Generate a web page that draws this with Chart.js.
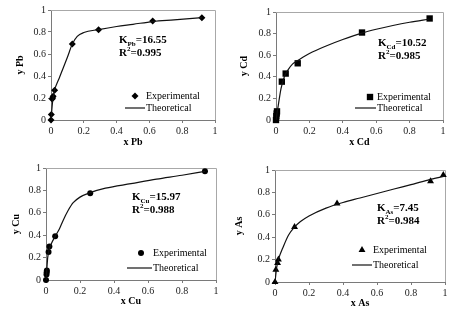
<!DOCTYPE html>
<html>
<head>
<meta charset="utf-8">
<script src="https://cdn.jsdelivr.net/npm/chart.js@4.4.1/dist/chart.umd.min.js"></script>
<style>
  html, body { margin: 0; padding: 0; background: #fff; }
  #wrap { position: relative; width: 458px; height: 321px; overflow: hidden; }
  .panel { position: absolute; }
  .panel canvas { position: absolute; left: 0; top: 0; }
  .note {
    position: absolute; white-space: nowrap; color: #000;
    font: bold 11px "Liberation Serif", "Times New Roman", serif; line-height: 12.5px;
  }
  .note sub, .note sup { font-size: 7px; line-height: 0; }
</style>
</head>
<body>
<div id="wrap">
  <div class="panel" style="left:0;top:0;width:229px;height:160px">
    <canvas id="chart-pb" width="229" height="160"></canvas>
    <div class="note" style="left:119px;top:33px">K<sub>Pb</sub>=16.55<br>R<sup>2</sup>=0.995</div>
  </div>
  <div class="panel" style="left:229px;top:0;width:229px;height:160px">
    <canvas id="chart-cd" width="229" height="160"></canvas>
    <div class="note" style="left:149px;top:36px">K<sub>Cd</sub>=10.52<br>R<sup>2</sup>=0.985</div>
  </div>
  <div class="panel" style="left:0;top:160px;width:229px;height:161px">
    <canvas id="chart-cu" width="229" height="161"></canvas>
    <div class="note" style="left:132px;top:30px">K<sub>Cu</sub>=15.97<br>R<sup>2</sup>=0.988</div>
  </div>
  <div class="panel" style="left:229px;top:160px;width:229px;height:161px">
    <canvas id="chart-as" width="229" height="161"></canvas>
    <div class="note" style="left:148px;top:41px">K<sub>As</sub>=7.45<br>R<sup>2</sup>=0.984</div>
  </div>
</div>
<script>
// shared axis ticks
const tickValues = [0, 0.2, 0.4, 0.6, 0.8, 1];
const tickLabels = ['0', '0.2', '0.4', '0.6', '0.8', '1'];
const legendLabels = ['Experimental', 'Theoretical'];

// Pb
const pbExpX = [0, 0.002, 0.007, 0.01, 0.013, 0.022, 0.13, 0.29, 0.62, 0.92];
const pbExpY = [0, 0.05, 0.19, 0.2, 0.215, 0.27, 0.69, 0.82, 0.9, 0.93];
const pbFitX = [0, 0.01, 0.02, 0.05, 0.1, 0.13, 0.16, 0.2, 0.29, 0.4, 0.5, 0.62, 0.75, 0.92];
const pbFitY = [0, 0.17, 0.26, 0.38, 0.57, 0.69, 0.76, 0.795, 0.822, 0.85, 0.87, 0.895, 0.91, 0.93];

// Cd
const cdExpX = [0, 0.002, 0.004, 0.006, 0.035, 0.058, 0.13, 0.515, 0.92];
const cdExpY = [0, 0.035, 0.06, 0.08, 0.355, 0.43, 0.525, 0.81, 0.94];
const cdFitX = [0, 0.01, 0.02, 0.03, 0.05, 0.07, 0.1, 0.13, 0.2, 0.3, 0.4, 0.515, 0.6, 0.7, 0.8, 0.92];
const cdFitY = [0, 0.1, 0.2, 0.29, 0.4, 0.46, 0.52, 0.55, 0.615, 0.685, 0.745, 0.805, 0.84, 0.875, 0.905, 0.935];

// Cu
const cuExpX = [0, 0.003, 0.004, 0.005, 0.015, 0.02, 0.054, 0.26, 0.935];
const cuExpY = [0, 0.05, 0.07, 0.085, 0.25, 0.3, 0.39, 0.775, 0.97];
const cuFitX = [0, 0.005, 0.01, 0.02, 0.03, 0.054, 0.08, 0.1, 0.13, 0.16, 0.2, 0.26, 0.35, 0.5, 0.65, 0.8, 0.935];
const cuFitY = [0, 0.1, 0.2, 0.28, 0.32, 0.39, 0.46, 0.53, 0.62, 0.69, 0.74, 0.78, 0.82, 0.86, 0.9, 0.935, 0.97];

// As
const asExpX = [0, 0.005, 0.015, 0.02, 0.115, 0.365, 0.915, 0.99];
const asExpY = [0, 0.11, 0.17, 0.2, 0.49, 0.7, 0.9, 0.955];
const asFitX = [0, 0.01, 0.02, 0.05, 0.08, 0.115, 0.15, 0.2, 0.3, 0.4, 0.5, 0.6, 0.7, 0.8, 0.9, 1];
const asFitY = [0, 0.13, 0.2, 0.32, 0.42, 0.49, 0.54, 0.59, 0.66, 0.71, 0.75, 0.79, 0.83, 0.87, 0.91, 0.945];

const SERIF = '"Liberation Serif", "Times New Roman", serif';
const AXIS_GREY = '#7a7a7a';
const LINE_COLOR = '#111';

const zip = (xs, ys) => xs.map((x, i) => ({ x, y: ys[i] }));

// light grey top/right edges of the plot box
const framePlugin = {
  id: 'frame',
  beforeDatasetsDraw(chart) {
    const { ctx, chartArea: a } = chart;
    ctx.save();
    ctx.strokeStyle = '#a8a8a8';
    ctx.lineWidth = 1;
    ctx.beginPath();
    ctx.moveTo(a.left, Math.round(a.top) + 0.5);
    ctx.lineTo(Math.round(a.right) + 0.5, Math.round(a.top) + 0.5);
    ctx.lineTo(Math.round(a.right) + 0.5, a.bottom);
    ctx.stroke();
    ctx.restore();
  },
};

// legend drawn inside the plot, styled from the datasets
const legendPlugin = {
  id: 'isoLegend',
  afterDraw(chart, args, opts) {
    const { ctx } = chart;
    const [line, pts] = chart.data.datasets;
    ctx.save();
    ctx.font = '10px ' + SERIF;
    ctx.fillStyle = '#000';
    ctx.textBaseline = 'middle';
    ctx.fillText(pts.label, opts.textX, opts.markY);
    ctx.fillText(line.label, opts.textX, opts.lineY);

    ctx.fillStyle = pts.backgroundColor;
    ctx.strokeStyle = pts.borderColor;
    Chart.helpers.drawPoint(ctx, { pointStyle: pts.pointStyle, radius: pts.pointRadius, borderWidth: 0, rotation: 0 },
      opts.markX, opts.markY);

    ctx.strokeStyle = line.borderColor;
    ctx.lineWidth = line.borderWidth;
    ctx.beginPath();
    ctx.moveTo(opts.lineX1, opts.lineY);
    ctx.lineTo(opts.lineX2, opts.lineY);
    ctx.stroke();
    ctx.restore();
  },
};

function axis(which, title, size, titlePad) {
  return {
    type: 'linear',
    min: 0,
    max: 1,
    afterBuildTicks: (s) => { s.ticks = tickValues.map((v) => ({ value: v })); },
    afterFit: (s) => { if (which === 'x') s.height = size; else s.width = size; },
    grid: { display: true, drawOnChartArea: false, drawTicks: true, tickLength: 3, color: AXIS_GREY },
    border: { display: true, color: AXIS_GREY, width: 1 },
    ticks: {
      padding: 2,
      color: '#222',
      font: { family: SERIF, size: 10 },
      autoSkip: false,
      maxRotation: 0,
      callback: (v, i) => tickLabels[i],
    },
    title: {
      display: true,
      text: title,
      color: '#000',
      font: { family: SERIF, size: 10, weight: 'bold' },
      padding: which === 'x' ? { top: 0, bottom: titlePad } : { top: titlePad, bottom: 0 },
    },
  };
}

function makePanel(id, p) {
  return new Chart(document.getElementById(id), {
    type: 'scatter',
    data: {
      datasets: [
        {
          label: legendLabels[1],
          data: zip(p.fitX, p.fitY),
          showLine: true,
          borderColor: LINE_COLOR,
          borderWidth: 1.2,
          pointRadius: 0,
          cubicInterpolationMode: 'monotone',
          fill: false,
        },
        {
          label: legendLabels[0],
          data: zip(p.expX, p.expY),
          pointStyle: p.marker,
          pointRadius: p.radius,
          backgroundColor: '#000',
          borderColor: '#000',
          borderWidth: 0,
          clip: false,
        },
      ],
    },
    options: {
      responsive: false,
      animation: false,
      events: [],
      layout: { padding: p.pad },
      plugins: {
        legend: { display: false },
        tooltip: { enabled: false },
        isoLegend: p.legend,
      },
      scales: {
        x: axis('x', p.xTitle, p.xH, p.xTitlePad),
        y: axis('y', p.yTitle, p.yW, p.yTitlePad),
      },
    },
    plugins: [framePlugin, legendPlugin],
  });
}

makePanel('chart-pb', {
  expX: pbExpX, expY: pbExpY, fitX: pbFitX, fitY: pbFitY,
  marker: 'rectRot', radius: 3.5,
  xTitle: 'x Pb', yTitle: 'y Pb',
  pad: { top: 10, right: 14, left: 0, bottom: 0 }, yW: 51, xH: 40, xTitlePad: 12, yTitlePad: 14,
  legend: { markX: 135, markY: 96, textX: 146, lineX1: 125, lineX2: 145, lineY: 108 },
});

makePanel('chart-cd', {
  expX: cdExpX, expY: cdExpY, fitX: cdFitX, fitY: cdFitY,
  marker: 'rect', radius: 4.5,
  xTitle: 'x Cd', yTitle: 'y Cd',
  pad: { top: 12, right: 15, left: 0, bottom: 0 }, yW: 47, xH: 40, xTitlePad: 12, yTitlePad: 9,
  legend: { markX: 141, markY: 97, textX: 148, lineX1: 126, lineX2: 147, lineY: 108 },
});

makePanel('chart-cu', {
  expX: cuExpX, expY: cuExpY, fitX: cuFitX, fitY: cuFitY,
  marker: 'circle', radius: 3,
  xTitle: 'x Cu', yTitle: 'y Cu',
  pad: { top: 7, right: 13, left: 0, bottom: 0 }, yW: 46, xH: 41, xTitlePad: 14, yTitlePad: 10,
  legend: { markX: 141, markY: 93, textX: 153, lineX1: 127, lineX2: 152, lineY: 108 },
});

makePanel('chart-as', {
  expX: asExpX, expY: asExpY, fitX: asFitX, fitY: asFitY,
  marker: 'triangle', radius: 4,
  xTitle: 'x As', yTitle: 'y As',
  pad: { top: 10, right: 13, left: 0, bottom: 0 }, yW: 46, xH: 39, xTitlePad: 12, yTitlePad: 4,
  legend: { markX: 133, markY: 90, textX: 144, lineX1: 123, lineX2: 143, lineY: 105 },
});
</script>
</body>
</html>
